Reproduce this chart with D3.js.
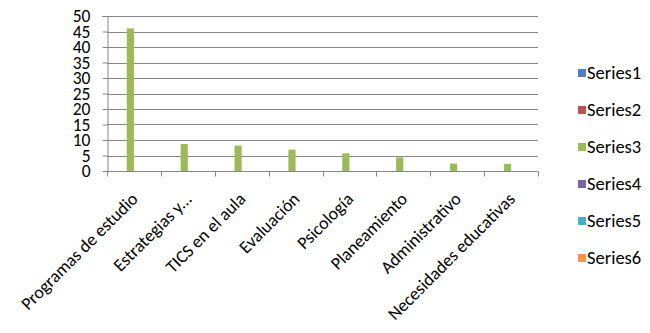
<!DOCTYPE html>
<html>
<head>
<meta charset="utf-8">
<script src="https://cdn.jsdelivr.net/npm/d3@7"></script>
<style>
  body { margin: 0; background: #fff; }
  text { font-family: Calibri, Carlito, "Open Sans", "Liberation Sans", sans-serif; fill: #000; }
</style>
</head>
<body>
<div id="chart"></div>
<script>
var categories = ['Programas de estudio', 'Estrategias y...', 'TICS en el aula', 'Evaluación',
                  'Psicología', 'Planeamiento', 'Administrativo', 'Necesidades educativas']
var seriesNames = ['Series1', 'Series2', 'Series3', 'Series4', 'Series5', 'Series6']
var seriesColors = ['#4F81BD', '#C0504D', '#9BBB59', '#8064A2', '#4BACC6', '#F79646']

// only Series3 carries values, the others are empty
var series1 = []
var series2 = []
var series3 = [46, 8.7, 8.2, 6.9, 5.7, 4.4, 2.4, 2.3]
var series4 = []
var series5 = []
var series6 = []
var allSeries = [series1, series2, series3, series4, series5, series6]

var yTicks = [0, 5, 10, 15, 20, 25, 30, 35, 40, 45, 50]

var width = 650, height = 333
var margin = {left: 107, right: 112, top: 16, bottom: 162}

var svg = d3.select("#chart")
    .append("svg")
    .attr("width", width)
    .attr("height", height)

var x = d3.scaleBand()
    .domain(categories)
    .range([margin.left, width - margin.right])
    .paddingInner(0)
    .paddingOuter(0)

var xSub = d3.scaleBand()
    .domain(seriesNames)
    .range([0, x.bandwidth()])
    .paddingInner(0)
    .paddingOuter(0.75)

var y = d3.scaleLinear()
    .domain([0, 50])
    .range([height - margin.bottom, margin.top])

var color = d3.scaleOrdinal()
    .domain(seriesNames)
    .range(seriesColors)

// gridlines
svg.append("g")
    .selectAll("line")
    .data(yTicks.slice(1))
    .enter()
    .append("line")
        .attr("x1", margin.left)
        .attr("x2", width - margin.right)
        .attr("y1", d => Math.round(y(d)) + 0.5)
        .attr("y2", d => Math.round(y(d)) + 0.5)
        .style("stroke", "#868686")
        .style("stroke-width", 1)

// y axis
var yAxis = svg.append("g")
    .attr("transform", "translate(" + (margin.left + 0.5) + ",0)")
    .call(d3.axisLeft(y).tickValues(yTicks).tickSize(5).tickPadding(12))
yAxis.select(".domain").style("stroke", "#868686")
yAxis.selectAll(".tick line").style("stroke", "#868686")
yAxis.selectAll(".tick text")
    .style("font-size", "17.5px")
    .attr("dy", "0.34em")

// x axis with ticks at category boundaries
var xAxisG = svg.append("g")
    .attr("transform", "translate(0," + (Math.round(y(0)) + 0.5) + ")")
xAxisG.append("line")
    .attr("x1", margin.left)
    .attr("x2", width - margin.right)
    .style("stroke", "#868686")
xAxisG.selectAll(".xtick")
    .data(categories.concat(['end']))
    .enter()
    .append("line")
        .attr("class", "xtick")
        .attr("x1", (d, i) => Math.round(margin.left + i * x.step()) + 0.5)
        .attr("x2", (d, i) => Math.round(margin.left + i * x.step()) + 0.5)
        .attr("y1", 0)
        .attr("y2", 5)
        .style("stroke", "#868686")

// bars
seriesNames.forEach(function (name, s) {
    svg.append("g")
        .selectAll("rect")
        .data(allSeries[s])
        .enter()
        .append("rect")
            .attr("x", (d, i) => x(categories[i]) + xSub(name))
            .attr("y", d => y(d))
            .attr("width", xSub.bandwidth())
            .attr("height", d => y(0) - y(d))
            .style("fill", color(name))
})

// rotated category labels
svg.append("g")
    .selectAll("text")
    .data(categories)
    .enter()
    .append("text")
        .attr("transform", d => "translate(" + (x(d) + x.bandwidth() / 2 - 4) + "," + 191 + ") rotate(-45)")
        .attr("text-anchor", "end")
        .attr("dy", "0.72em")
        .style("font-size", "17.8px")
        .text(d => d)

// legend
var legend = svg.append("g")
var size = 8
legend.selectAll("rect")
    .data(seriesNames)
    .enter()
    .append("rect")
        .attr("x", 578)
        .attr("y", (d, i) => 73 + i * 37 - size / 2)
        .attr("width", size)
        .attr("height", size)
        .style("fill", d => color(d))
legend.selectAll("text")
    .data(seriesNames)
    .enter()
    .append("text")
        .attr("x", 587)
        .attr("y", (d, i) => 73 + i * 37)
        .attr("dy", "0.34em")
        .style("font-size", "18.5px")
        .text(d => d)
</script>
</body>
</html>
